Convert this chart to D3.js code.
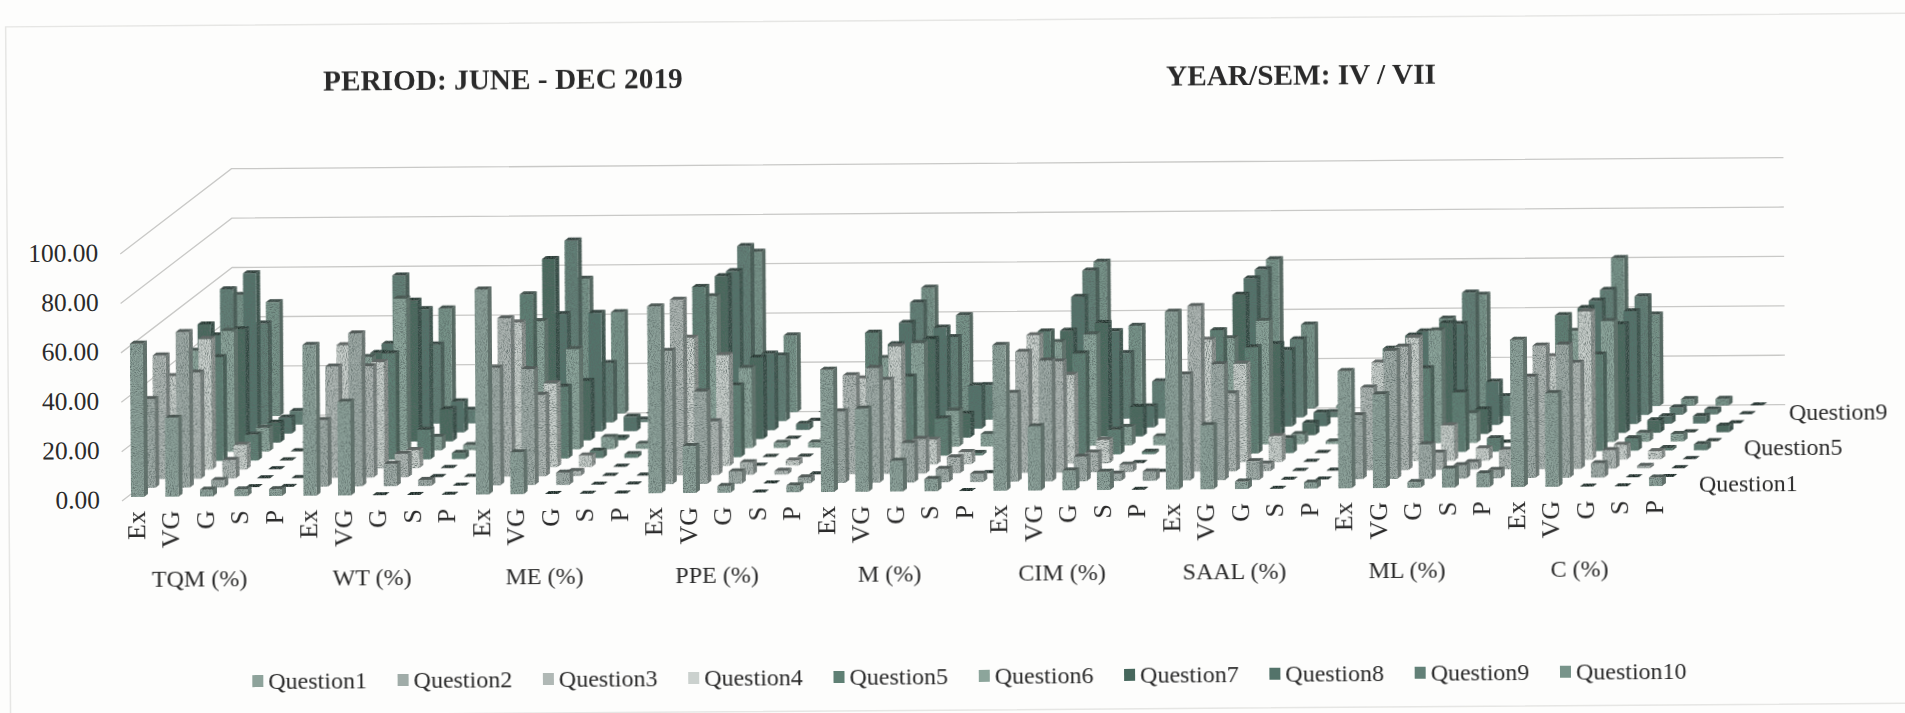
<!DOCTYPE html>
<html><head><meta charset="utf-8">
<script src="https://cdnjs.cloudflare.com/ajax/libs/d3/7.8.5/d3.min.js"></script>
<style>html,body{margin:0;padding:0;background:#fdfdfc;overflow:hidden}svg{display:block}text{font-family:"Liberation Serif","Times New Roman",serif;fill:#2a2a2a}</style>
</head><body><svg id="c" width="1905" height="713"></svg>
<script>
const titleLeft = "PERIOD: JUNE - DEC 2019";
const titleRight = "YEAR/SEM: IV / VII";
const groups = ["TQM (%)","WT (%)","ME (%)","PPE (%)","M (%)","CIM (%)","SAAL (%)","ML (%)","C (%)"];
const grades = ["Ex","VG","G","S","P"];
const questions = d3.range(1,11).map(i=>"Question"+i);
const depthLabels = ["Question1","Question5","Question9"];
const ticks = [0,20,40,60,80,100];
const colors = ["#8ea39b","#a0aca8","#b0b8b5","#cbd1ce","#5f8074","#8ca59b","#46675c","#53736a","#628077","#78948a"];
// rows: grade, columns: Question1..Question10
const TQM  = [[62,36,50,38,35,41,48,40,55,49],[32,63,43,53,42,49,46,65,41,46],[2.7,3,7.5,10,10.5,9.6,8,6.5,5.5,1],[2.7,0,0,0,0,0,0,0,0,0],[2.7,0,0,0,0,0,0,0,0,0]];
const WT   = [[61,27,45,50,40,38,36,36,60,44],[38,62,45,43,43,61.5,57,50,32,43],[0,9,9.5,7.4,12,5.5,13,12.5,5.5,1],[0,2.5,0,0,2.5,2,0,0,0,0],[0,0,0,0,0,0,0,0,0,0]];
const ME   = [[83,47.6,64,58.7,66.5,52,73.5,47.6,73.7,54.6],[17,47,33,34,29,40.6,24,48,24,41],[0,5,2,4.7,3,4.9,1,5.8,1,0],[0,0,0,0,1.5,2,0,0,0,0],[0,0,0,1,0,0,0,0,0,0]];
const PPE  = [[75.6,54,71,52,69,61.5,66,64.5,71,65],[19,37.5,21.7,45,29,32.5,33,31,26.5,31],[2.7,5,5,0,0,2,0,2.4,0,0],[0,0,1.5,2,0,2,0,0,0,0],[2.7,2.4,0,0,0,0,0,0,0,0]];
const M    = [[49.5,29,40,35,50,36,38,43,47.6,50],[33.7,46.5,38,48,32,42,40,41,33.5,38.7],[12.4,16,14,10,15,14.6,9.7,17.5,14,3],[5,5.4,6.5,5,1,5,0,0,0,0],[0,3.4,0,0,0,0,0,0,0,0]];
const CIM  = [[59,36,49,52,50,42,43,53,60,60],[26,49,45,36,41,45,46,39,26.5,34],[8,10,8,9.5,10,7.5,12,8.5,15,2],[7.4,3,3,0,1,3.5,0,0,0,0],[0,3.8,0,0,0,0,0,0,0,0]];
const SAAL = [[72,43,67,49.7,50,43,57,60,60,60.5],[26,47,31.6,40,43,50,37,31,31.6,34],[3,7.6,3,10.5,6,4,5,5.5,2,1],[0,0,0,0,0,1,0,0,0,0],[2.4,0,0,0,0,0,0,0,0,0]];
const ML   = [[47.5,26,33.5,40,42,38,40,38,30,36],[38,52,50,50,34,45.6,45,41,50,45.5],[2.3,14,7,14.4,24,12,10,17.5,8,2],[7.7,5.4,3,5,5.4,0,0,0,0,0],[5.7,3.4,8,0,0,0,0,0,0,0]];
const C    = [[59.6,41,50,42,55,45,50.6,50,50.7,60],[38,54,43,60,39,49,44,45.6,48,37],[0,5.8,7.5,6,5,3.5,5,3,3,2.7],[0,0,1,3.4,1,3,0,3,2,2.7],[3.4,0,0,0,2.4,0,2.7,0,0,0]];
const table = [TQM,WT,ME,PPE,M,CIM,SAAL,ML,C];

const svg = d3.select("#c");
const defs = svg.append("defs");
const grain = defs.append("filter").attr("id","grain").attr("x",0).attr("y",0).attr("width","100%").attr("height","100%");
grain.append("feTurbulence").attr("type","fractalNoise").attr("baseFrequency",0.95).attr("numOctaves",2).attr("seed",4).attr("result","n");
grain.append("feColorMatrix").attr("in","n").attr("type","matrix").attr("values","0 0 0 0 0.1  0 0 0 0 0.14  0 0 0 0 0.13  0 0 0 2.6 -1.05").attr("result","a");
grain.append("feComposite").attr("in","a").attr("in2","SourceAlpha").attr("operator","in").attr("result","b");
const gm = grain.append("feMerge");
gm.append("feMergeNode").attr("in","SourceGraphic");
gm.append("feMergeNode").attr("in","b");
defs.append("filter").attr("id","soft").append("feGaussianBlur").attr("stdDeviation",0.35);

const root = svg.append("g").attr("transform","rotate(-0.41 130 497)");
root.append("rect").attr("x",9).attr("y",26).attr("width",2100).attr("height",690).attr("fill","none").attr("stroke","#e6e6e4").attr("stroke-width",1.5);

const xPos = d3.scaleLinear().domain([0,45]).range([131,131+45*34.5]);   // flat category index
const depthX = d3.scaleLinear().domain([0,10]).range([0,113]);
const depthY = d3.scaleLinear().domain([0,10]).range([0,-89]);
const yVal = d3.scaleLinear().domain([0,100]).range([497,250]);
const barW=13, sideX=4, sideY=3;

// wall and back gridlines
const backX = xPos(0)+depthX(9.1), frontX = xPos(0)-9, rightX = backX+1552;
const lift = depthY(9.5);
const grid = root.append("g").attr("fill","none").attr("stroke","#c9c9c7").attr("stroke-width",1.3);
ticks.forEach(t=>{
  const yb = yVal(t)+lift+4, yf = yVal(t)+4;
  grid.append("path").attr("d",d3.line()([[frontX,yf],[backX,yb],[rightX,yb]]));
});

// bars, back to front
const flat=[];
d3.range(9,-1,-1).forEach(d=>table.forEach((rows,g)=>rows.forEach((row,c)=>flat.push({g,c,d,v:row[d]}))));
const bars = root.append("g").attr("filter","url(#grain)");
const shade=(col,k)=>d3.color(col).darker(k).formatHex();
flat.forEach(b=>{
  const x0 = xPos(b.g*5+b.c)+depthX(b.d), yb = yVal(0)+depthY(b.d), yt = yVal(b.v)+depthY(b.d);
  const col = colors[b.d];
  const g = bars.append("g");
  if(b.v>0){
    g.append("path").attr("fill",shade(col,0.95)).attr("d",d3.line()([[x0+barW,yb],[x0+barW+sideX,yb-sideY],[x0+barW+sideX,yt-sideY],[x0+barW,yt]]));
    g.append("path").attr("fill",col).attr("d",d3.line()([[x0,yb],[x0+barW,yb],[x0+barW,yt],[x0,yt]]));
  }
  g.append("path").attr("fill",b.v>0?shade(col,1.9):"#1e2a26").attr("d",d3.line()([[x0,yt],[x0+barW,yt],[x0+barW+sideX,yt-sideY],[x0+sideX,yt-sideY]]));
});

// value axis
const axis = root.append("g").attr("transform","translate(100,2.5)").call(d3.axisLeft(yVal).tickValues(ticks).tickSize(0).tickPadding(0).tickFormat(d3.format(".2f")));
axis.select(".domain").remove();
axis.selectAll("text").attr("font-size",25.5).attr("font-family","Liberation Serif").attr("fill","#2a2a2a");

// grade labels
const txt = root.append("g").attr("filter","url(#soft)");
groups.forEach((name,g)=>{
  grades.forEach((lab,c)=>{
    const x = xPos(g*5+c)+6;
    txt.append("text").attr("transform",`translate(${x+8},511) rotate(-90)`).attr("text-anchor","end").attr("font-size",26).text(lab);
  });
  txt.append("text").attr("x",xPos(g*5+2)-1).attr("y",587).attr("text-anchor","middle").attr("font-size",24).text(name);
});
// depth labels
depthLabels.forEach(l=>{
  const d = questions.indexOf(l);
  txt.append("text").attr("x",xPos(44)+depthX(d)+50).attr("y",yVal(0)+depthY(d)+6).attr("font-size",24).text(l);
});
// titles
txt.append("text").attr("x",326).attr("y",92).attr("font-size",29.3).attr("font-weight","bold").text(titleLeft);
txt.append("text").attr("x",1169).attr("y",93).attr("font-size",29.3).attr("font-weight","bold").text(titleRight);
// legend
const lx = d3.scaleLinear().domain([0,9]).range([251,251+9*145.3]);
questions.forEach((q,i)=>{
  root.append("rect").attr("x",lx(i)).attr("y",676).attr("width",11).attr("height",12).attr("fill",colors[i]);
  txt.append("text").attr("x",lx(i)+16).attr("y",690).attr("font-size",24).text(q);
});
</script></body></html>
